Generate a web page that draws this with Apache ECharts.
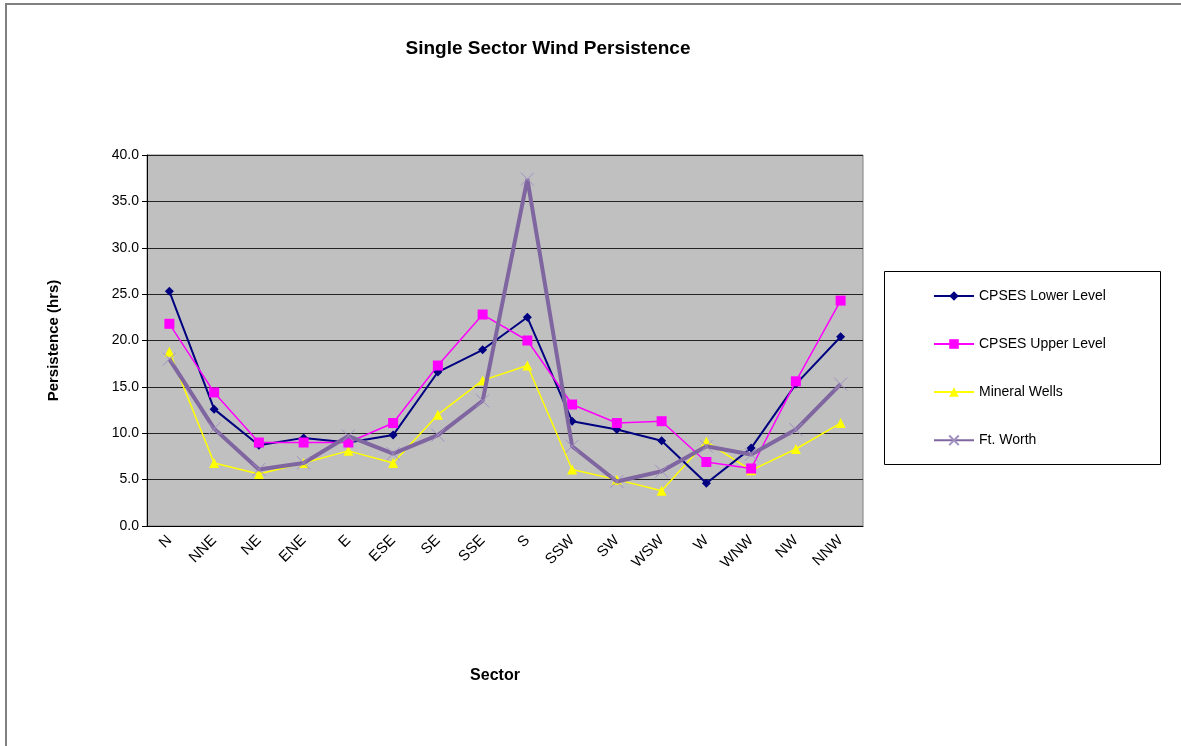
<!DOCTYPE html>
<html>
<head>
<meta charset="utf-8">
<script src="https://cdn.jsdelivr.net/npm/echarts@6/dist/echarts.min.js"></script>
<style>
  html, body { margin: 0; padding: 0; background: #fff; }
  #chart { width: 1181px; height: 746px; }
</style>
</head>
<body>
<div id="chart"></div>
<script>
const sectors = ["N", "NNE", "NE", "ENE", "E", "ESE", "SE", "SSE", "S", "SSW", "SW", "WSW", "W", "WNW", "NW", "NNW"];
const lowerLevel = [25.3, 12.6, 8.7, 9.5, 9.0, 9.8, 16.6, 19.0, 22.5, 11.3, 10.4, 9.2, 4.6, 8.4, 15.3, 20.4];
const upperLevel = [21.8, 14.4, 9.0, 9.0, 9.0, 11.1, 17.3, 22.8, 20.0, 13.1, 11.1, 11.3, 6.9, 6.2, 15.6, 24.3];
const mineralWells = [18.8, 6.8, 5.6, 6.8, 8.1, 6.8, 12.0, 15.7, 17.3, 6.1, 5.0, 3.8, 9.1, 6.0, 8.3, 11.1];
const ftWorth = [18.0, 10.5, 6.1, 6.8, 9.7, 7.8, 9.8, 13.5, 37.4, 8.6, 4.8, 5.9, 8.6, 7.7, 10.4, 15.3];

const font = "'Liberation Sans Narrow', 'Arial Narrow', 'Liberation Sans', Arial, sans-serif";

const chart = echarts.init(document.getElementById("chart"));
const option = {
  animation: false,
  textStyle: { fontFamily: font },
  title: {
    text: "Single Sector Wind Persistence",
    left: 543,
    textAlign: "center",
    top: 34,
    textStyle: { fontSize: 19, fontWeight: "bold", color: "#000", fontFamily: font },
  },
  graphic: [
    {
      // outer chart border
      type: "rect",
      shape: { x: 6, y: 4, width: 1200, height: 800 },
      style: { fill: "none", stroke: "#808080", lineWidth: 2 },
      silent: true,
    },
    {
      // legend box
      type: "rect",
      shape: { x: 884.5, y: 271.5, width: 276, height: 193 },
      style: { fill: "#fff", stroke: "#000", lineWidth: 1 },
      silent: true,
    },
  ],
  legend: {
    orient: "vertical",
    left: 928,
    top: 284,
    itemWidth: 40,
    itemHeight: 12,
    itemGap: 34,
    textStyle: { fontSize: 14, color: "#000", fontFamily: font },
    data: ["CPSES Lower Level", "CPSES Upper Level", "Mineral Wells", "Ft. Worth"],
  },
  grid: {
    left: 147,
    right: 318,
    top: 155,
    bottom: 220,
    show: true,
    backgroundColor: "#C0C0C0",
    borderColor: "#808080",
    borderWidth: 1,
  },
  xAxis: {
    type: "category",
    data: sectors,
    boundaryGap: true,
    name: "Sector",
    nameLocation: "middle",
    nameGap: 142,
    nameTextStyle: { fontSize: 16, fontWeight: "bold", color: "#000", fontFamily: font, padding: [0, 20, 0, 0] },
    axisLine: { lineStyle: { color: "#000" } },
    axisTick: { lineStyle: { color: "#000" }, length: 5 },
    axisLabel: { rotate: 45, color: "#000", fontSize: 15, margin: 12, interval: 0 },
  },
  yAxis: {
    type: "value",
    min: 0,
    max: 40,
    interval: 5,
    name: "Persistence (hrs)",
    nameLocation: "middle",
    nameGap: 86,
    nameTextStyle: { fontSize: 15, fontWeight: "bold", color: "#000", fontFamily: font },
    axisLine: { show: true, lineStyle: { color: "#000" } },
    axisTick: { show: true, lineStyle: { color: "#000" }, length: 5 },
    axisLabel: {
      color: "#000",
      fontSize: 14,
      margin: 8,
      formatter: (v) => v.toFixed(1),
    },
    splitLine: { lineStyle: { color: "#222", width: 1 } },
  },
  series: [
    {
      name: "CPSES Lower Level",
      type: "line",
      data: lowerLevel,
      symbol: "diamond",
      symbolSize: 9,
      color: "#000080",
      lineStyle: { width: 2 },
      z: 3,
    },
    {
      name: "CPSES Upper Level",
      type: "line",
      data: upperLevel,
      symbol: "rect",
      symbolSize: 10,
      color: "#FF00FF",
      lineStyle: { width: 1.5 },
      z: 3,
    },
    {
      name: "Mineral Wells",
      type: "line",
      data: mineralWells,
      symbol: "triangle",
      symbolSize: 10,
      color: "#FFFF00",
      lineStyle: { width: 1.5 },
      z: 2,
    },
    {
      name: "Ft. Worth",
      type: "line",
      data: ftWorth,
      symbol: "path://M0,0L10,10M10,0L0,10",
      symbolSize: 13,
      color: "#8066A0",
      itemStyle: { color: "none", borderColor: "#A090C0", borderWidth: 1 },
      lineStyle: { width: 4, color: "#8066A0" },
      z: 4,
    },
  ],
};
chart.setOption(option);
</script>
</body>
</html>
